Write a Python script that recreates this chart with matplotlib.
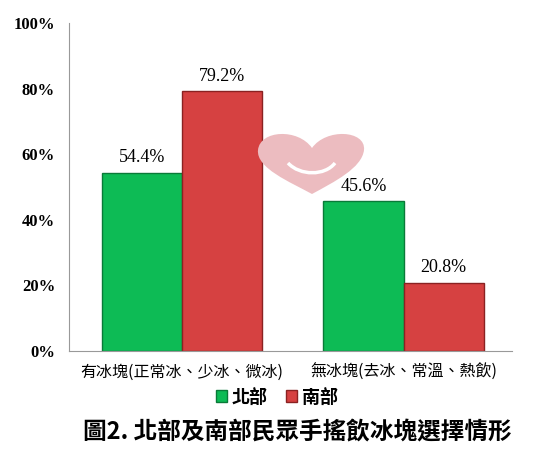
import matplotlib.pyplot as plt
import numpy as np
from matplotlib.ticker import FuncFormatter
from matplotlib.path import Path
from matplotlib.patches import PathPatch

categories = ['有冰塊(正常冰、少冰、微冰)', '無冰塊(去冰、常溫、熱飲)']
series = ['北部', '南部']
north = [54.4, 45.6]
south = [79.2, 20.8]
yticks = [0, 20, 40, 60, 80, 100]
title = '圖2. 北部及南部民眾手搖飲冰塊選擇情形'

cjk = ['Noto Sans CJK TC', 'DejaVu Sans']
serif = ['Liberation Serif', 'DejaVu Serif']

W, H = 554, 450
fig = plt.figure(figsize=(5.54, 4.5), dpi=100)


def px(x, y):
    return (x / W, 1 - y / H)


# faint heart logo in the background
verts = [px(312, 194),
         px(290, 182), px(256, 168), px(258, 150),
         px(260, 130), px(298, 128), px(312, 148),
         px(326, 128), px(366, 130), px(364, 150),
         px(362, 168), px(334, 182), px(312, 194)]
codes = [Path.MOVETO] + [Path.CURVE4] * 12
heart = PathPatch(Path(verts, codes), facecolor='#ecbcc0', edgecolor='none',
                  transform=fig.transFigure, zorder=0)
fig.patches.append(heart)
smile = [px(288, 163), px(300, 176), px(325, 176), px(335, 163)]
fig.patches.append(PathPatch(Path(smile, [Path.MOVETO] + [Path.CURVE4] * 3),
                             facecolor='none', edgecolor='white', linewidth=2.5,
                             transform=fig.transFigure, zorder=0))

ax = fig.add_axes([0.1245, 0.22, 0.80, 0.729])
ax.patch.set_alpha(0)

x = np.arange(len(categories))
w = 0.362
b1 = ax.bar(x - w / 2, north, w, color='#0dbb55', edgecolor='#0a7a38', linewidth=1, label=series[0])
b2 = ax.bar(x + w / 2, south, w, color='#d64141', edgecolor='#8a2222', linewidth=1, label=series[1])

for bars, vals in ((b1, north), (b2, south)):
    for r, v in zip(bars, vals):
        ax.text(r.get_x() + r.get_width() / 2, v + 2, f'{v:.1f}%', ha='center', va='bottom',
                family=serif, fontsize=13, color='black')

ax.set_xlim(-0.51, 1.49)
ax.set_ylim(0, 100)
ax.set_yticks(yticks)
ax.yaxis.set_major_formatter(FuncFormatter(lambda v, p: f'{v:.0f}%'))
for t in ax.get_yticklabels():
    t.set_family(serif)
    t.set_fontweight('bold')
    t.set_fontsize(12)
ax.tick_params(axis='y', length=0, pad=10)
ax.set_xticks(x)
ax.set_xticklabels(categories, family=cjk, fontsize=11.5)
ax.tick_params(axis='x', length=0, pad=9)

for s in ['top', 'right']:
    ax.spines[s].set_visible(False)
ax.spines['left'].set_color('#999999')
ax.spines['bottom'].set_color('#999999')

leg = fig.legend(loc='center', bbox_to_anchor=(0.5, 1 - 397 / 450), ncol=2, frameon=False,
                 prop={'family': cjk, 'weight': 'bold', 'size': 13},
                 handlelength=0.6, handleheight=0.6, handletextpad=0.3, columnspacing=1.0)

fig.text(0.537, 1 - 432 / 450, title, ha='center', va='center', family=cjk,
         fontsize=17, fontweight='bold')

fig.savefig('out.png', dpi=100)
